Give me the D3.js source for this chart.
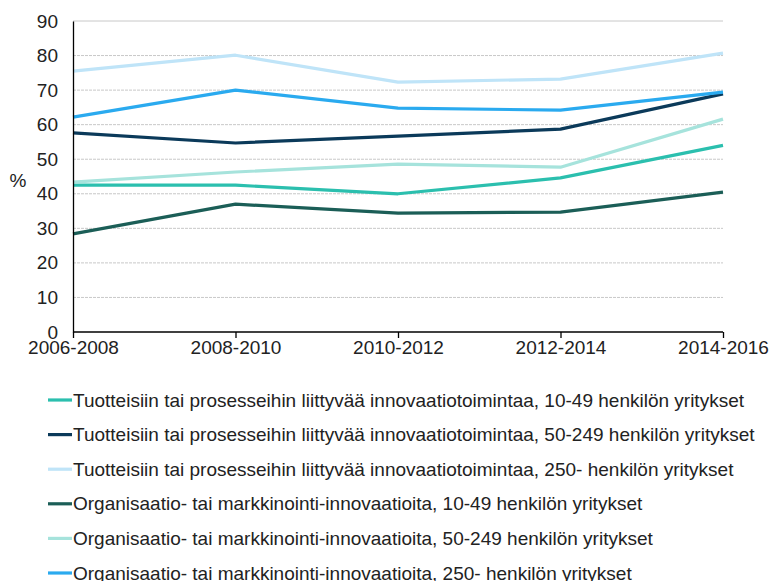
<!DOCTYPE html>
<html>
<head>
<meta charset="utf-8">
<script src="https://cdn.jsdelivr.net/npm/d3@7"></script>
<style>
  body { margin: 0; background: #fff; }
  svg text { font-family: "Liberation Sans", Arial, sans-serif; fill: #222; }
</style>
</head>
<body>
<svg id="chart" width="771" height="581"></svg>
<script>
const periods = ["2006-2008", "2008-2010", "2010-2012", "2012-2014", "2014-2016"];
const yTicks = [0, 10, 20, 30, 40, 50, 60, 70, 80, 90];

const seriesNames = [
    "Tuotteisiin tai prosesseihin liittyvää innovaatiotoimintaa, 10-49 henkilön yritykset",
    "Tuotteisiin tai prosesseihin liittyvää innovaatiotoimintaa, 50-249 henkilön yritykset",
    "Tuotteisiin tai prosesseihin liittyvää innovaatiotoimintaa, 250- henkilön yritykset",
    "Organisaatio- tai markkinointi-innovaatioita, 10-49 henkilön yritykset",
    "Organisaatio- tai markkinointi-innovaatioita, 50-249 henkilön yritykset",
    "Organisaatio- tai markkinointi-innovaatioita, 250- henkilön yritykset"
];
const tuote10 = [42.5, 42.5, 40, 44.6, 54];
const tuote50 = [57.6, 54.7, 56.7, 58.7, 68.9];
const tuote250 = [75.5, 80.1, 72.3, 73.2, 80.7];
const org10 = [28.4, 37, 34.4, 34.7, 40.5];
const org50 = [43.4, 46.3, 48.6, 47.7, 61.6];
const org250 = [62.2, 70, 64.8, 64.2, 69.4];
const seriesValues = [tuote10, tuote50, tuote250, org10, org50, org250];
const colors = ["#2bbfae", "#0b3a5a", "#bfe4f8", "#1b5e57", "#a6e3dc", "#2aaaef"];

// draw order: back to front like the original
const drawOrder = [3, 0, 4, 1, 5, 2];

const svg = d3.select("#chart");
const plot = { left: 73, right: 723, top: 21, bottom: 332 };
const fontSize = 19;

const xScale = d3.scalePoint()
    .domain(periods)
    .range([plot.left, plot.right]);
const yScale = d3.scaleLinear()
    .domain([0, 90])
    .range([plot.bottom, plot.top]);

// Gridlines
svg.append("g")
    .selectAll("line")
    .data(yTicks.filter(d => d > 0))
    .join("line")
    .attr("x1", plot.left)
    .attr("x2", plot.right)
    .attr("y1", d => yScale(d))
    .attr("y2", d => yScale(d))
    .attr("stroke", "#c8c8c8")
    .attr("stroke-width", 1)
    .attr("stroke-dasharray", d => d === 90 ? null : "3,1");

// Lines
const line = d3.line()
    .x((d, i) => xScale(periods[i]))
    .y(d => yScale(d));
svg.append("g")
    .selectAll("path")
    .data(drawOrder)
    .join("path")
    .attr("d", k => line(seriesValues[k]))
    .attr("fill", "none")
    .attr("stroke", k => colors[k])
    .attr("stroke-width", 3.2)
    .attr("stroke-linejoin", "round");

// Axes
const xAxis = svg.append("g")
    .attr("transform", "translate(0," + plot.bottom + ")")
    .call(d3.axisBottom(xScale).tickSizeInner(6).tickSizeOuter(0).tickPadding(3));
const yAxis = svg.append("g")
    .attr("transform", "translate(" + plot.left + ",0)")
    .call(d3.axisLeft(yScale).tickValues(yTicks).tickSize(0).tickPadding(15));
[xAxis, yAxis].forEach(a => {
    a.selectAll("path, line").attr("stroke", "#000").attr("stroke-width", 1.3);
    a.selectAll("text").attr("font-size", fontSize).attr("fill", "#222")
        .style("font-family", "'Liberation Sans', Arial, sans-serif");
});
xAxis.select(".domain").attr("d", "M" + plot.left + ",0H" + plot.right);

svg.append("text")
    .attr("x", 18)
    .attr("y", 187)
    .attr("text-anchor", "middle")
    .attr("font-size", fontSize)
    .text("%");

// Legend
const legend = svg.append("g")
    .selectAll("g")
    .data(seriesNames)
    .join("g")
    .attr("transform", (d, i) => "translate(48," + (400 + i * 34.6) + ")");
legend.append("line")
    .attr("x1", 0)
    .attr("x2", 24)
    .attr("stroke", (d, i) => colors[i])
    .attr("stroke-width", 3.2);
legend.append("text")
    .attr("x", 25)
    .attr("dy", "0.35em")
    .attr("font-size", fontSize)
    .text(d => d);
</script>
</body>
</html>
